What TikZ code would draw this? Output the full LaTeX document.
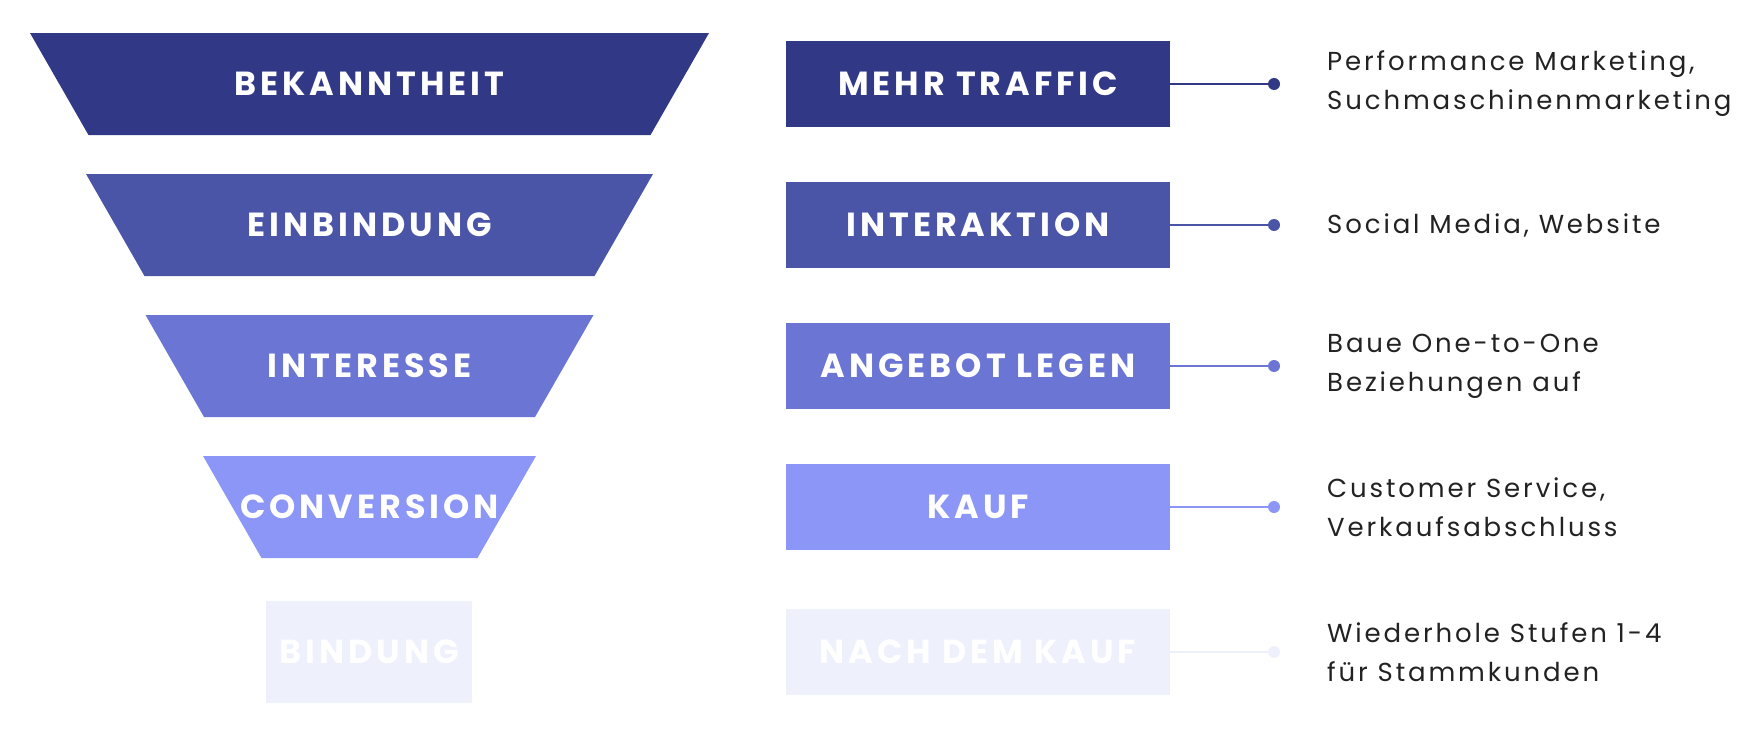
\documentclass[tikz,border=0pt]{standalone}
\usepackage{fontspec}
\setmainfont{Poppins}

\definecolor{stufeA}{HTML}{313885}
\definecolor{stufeB}{HTML}{4A55A8}
\definecolor{stufeC}{HTML}{6B76D4}
\definecolor{stufeD}{HTML}{8C96F7}
\definecolor{stufeE}{HTML}{EEF0FC}
\definecolor{textgrau}{HTML}{222222}

\tikzset{
  stufentext/.style={inner sep=0pt, text=white,
    font=\fontsize{19}{23}\selectfont\bfseries\addfontfeatures{LetterSpace=12}},
  ziel/.style={rectangle, minimum width=7.68cm, minimum height=1.72cm,
    inner sep=0pt, text=white,
    font=\fontsize{19}{23}\selectfont\bfseries\addfontfeatures{LetterSpace=12}},
  punkt/.style={circle, inner sep=0pt, minimum size=0.24cm},
  verbindung/.style={line width=1.2pt},
  massnahme/.style={anchor=west, align=left, text=textgrau,
    font=\fontsize{14.8}{22.2}\selectfont\addfontfeatures{LetterSpace=11}},
}

\begin{document}
\begin{tikzpicture}
\useasboundingbox (0,0) rectangle (35.22,-14.78);

% Trichter
\fill[stufeA] (0.60,-0.66) -- (14.18,-0.66) -- (13.01,-2.70) -- (1.77,-2.70) -- cycle;
\fill[stufeB] (1.72,-3.48) -- (13.06,-3.48) -- (11.89,-5.52) -- (2.89,-5.52) -- cycle;
\fill[stufeC] (2.91,-6.30) -- (11.87,-6.30) -- (10.70,-8.34) -- (4.08,-8.34) -- cycle;
\fill[stufeD] (4.06,-9.12) -- (10.72,-9.12) -- (9.55,-11.16) -- (5.23,-11.16) -- cycle;
\fill[stufeE] (5.32,-12.02) rectangle (9.44,-14.06);

\node[stufentext] (f1) at (7.39,-1.68) {BEKANNTHEIT};
\node[stufentext] (f2) at (7.39,-4.50) {EINBINDUNG};
\node[stufentext] (f3) at (7.39,-7.32) {INTERESSE};
\node[stufentext] (f4) at (7.39,-10.14) {CONVERSION};
\node[stufentext] (f5) at (7.38,-13.04) {BINDUNG};

% Ziele
\node[ziel, fill=stufeA] (z1) at (19.56,-1.68) {MEHR TRAFFIC};
\node[ziel, fill=stufeB] (z2) at (19.56,-4.50) {INTERAKTION};
\node[ziel, fill=stufeC] (z3) at (19.56,-7.32) {ANGEBOT LEGEN};
\node[ziel, fill=stufeD] (z4) at (19.56,-10.14) {KAUF};
\node[ziel, fill=stufeE] (z5) at (19.56,-13.04) {NACH DEM KAUF};

\node[punkt, fill=stufeA] (p1) at (25.48,-1.68) {};
\node[punkt, fill=stufeB] (p2) at (25.48,-4.50) {};
\node[punkt, fill=stufeC] (p3) at (25.48,-7.32) {};
\node[punkt, fill=stufeD] (p4) at (25.48,-10.14) {};
\node[punkt, fill=stufeE] (p5) at (25.48,-13.04) {};

\draw[verbindung, stufeA] (z1.east) -- (p1);
\draw[verbindung, stufeB] (z2.east) -- (p2);
\draw[verbindung, stufeC] (z3.east) -- (p3);
\draw[verbindung, stufeD] (z4.east) -- (p4);
\draw[verbindung, stufeE] (z5.east) -- (p5);

% Massnahmen
\node[massnahme] (m1) at (26.42,-1.68) {Performance Marketing,\\Suchmaschinenmarketing};
\node[massnahme] (m2) at (26.42,-4.50) {Social Media, Website};
\node[massnahme] (m3) at (26.42,-7.32) {Baue One-to-One\\Beziehungen auf};
\node[massnahme] (m4) at (26.42,-10.14) {Customer Service,\\Verkaufsabschluss};
\node[massnahme] (m5) at (26.42,-13.04) {Wiederhole Stufen 1-4\\für Stammkunden};

\end{tikzpicture}
\end{document}
